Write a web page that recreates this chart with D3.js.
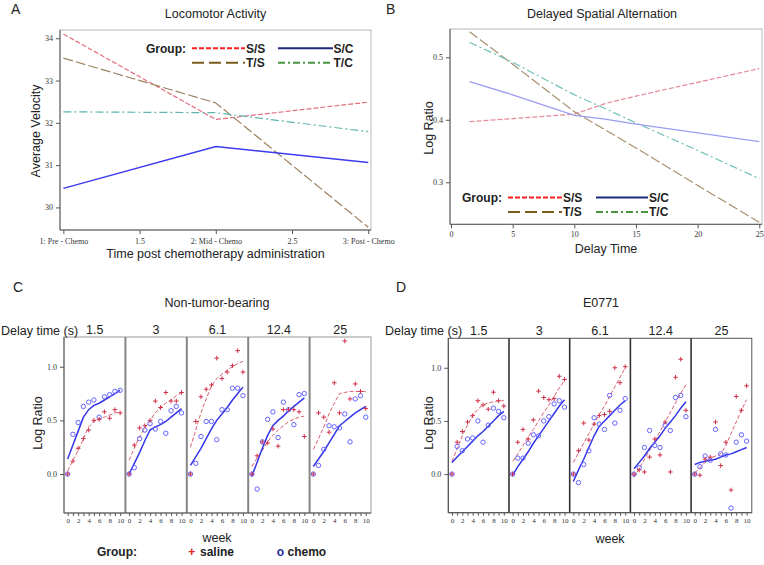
<!DOCTYPE html>
<html><head><meta charset="utf-8">
<script src="https://cdn.jsdelivr.net/npm/d3@7"></script>
<style>
body{margin:0;background:#fff;}
svg{display:block;}
text{font-family:"Liberation Sans",Arial,sans-serif;fill:#222;}
</style></head><body>
<svg id="chart" width="764" height="565"></svg>
<script>
// ---------- Panel A: Locomotor Activity ----------
const timePoints = [1, 2, 3];
const aTickValues = [1, 1.5, 2, 2.5, 3];
const aTickLabels = ["1: Pre - Chemo", "1.5", "2: Mid - Chemo", "2.5", "3: Post - Chemo"];
const aYTicks = [30, 31, 32, 33, 34];
const locoSS = [34.10, 32.08, 32.49];
const locoSC = [30.45, 31.44, 31.06];
const locoTS = [33.53, 32.47, 29.53];
const locoTC = [32.26, 32.24, 31.79];

// ---------- Panel B: Delayed Spatial Alternation ----------
const delayGrid = [1.5, 5, 10, 12.5, 15, 20, 25];
const bXTicks = [0, 5, 10, 15, 20, 25];
const bYTicks = [0.3, 0.4, 0.5];
const dsaSS = [0.397, 0.402, 0.409, 0.426, 0.438, 0.460, 0.482];
const dsaSC = [0.461, 0.440, 0.407, 0.401, 0.393, 0.379, 0.365];
const dsaTS = [0.541, 0.489, 0.413, 0.384, 0.355, 0.295, 0.236];
const dsaTC = [0.524, 0.492, 0.440, 0.418, 0.395, 0.351, 0.306];

// ---------- Panels C & D ----------
const weeks = [0, 1, 2, 3, 4, 5, 6, 7, 8, 9, 10];
const delayLabels = ["1.5", "3", "6.1", "12.4", "25"];
const logRatioTicks = [0.0, 0.5, 1.0];

const cSalinePts = [
  [0, 0.12, 0.24, 0.33, 0.41, 0.50, 0.51, 0.58, 0.52, 0.60, 0.57],
  [0, 0.27, 0.43, 0.45, 0.50, 0.68, 0.62, 0.76, 0.68, 0.68, 0.76],
  [0, 0.49, 0.72, 0.79, 0.83, 1.08, 0.89, 0.95, 1.01, 1.15, 0.95],
  [0, 0.17, 0.30, 0.29, 0.42, 0.26, 0.60, 0.60, 0.60, 0.58, 0.35],
  [0, 0.57, 0.53, 0.39, 0.85, 0.57, 1.24, 0.70, 0.84, 0.77, 0.61]
];
const cChemoPts = [
  [0, 0.37, 0.48, 0.63, 0.67, 0.69, 0.53, 0.72, 0.74, 0.77, 0.78],
  [0, 0.06, 0.33, 0.41, 0.47, 0.42, 0.49, 0.38, 0.59, 0.63, 0.57],
  [0, 0.10, 0.35, 0.49, 0.49, 0.32, 0.60, 0.60, 0.80, 0.80, 0.73],
  [0, -0.14, 0.30, 0.51, 0.58, 0.34, 0.67, 0.60, 0.46, 0.74, 0.75],
  [0, 0.08, 0.23, 0.45, 0.44, 0.43, 0.56, 0.30, 0.70, 0.73, 0.53]
];
const cSalineFit = [
  [0.03, 0.13, 0.22, 0.33, 0.44, 0.49, 0.51, 0.53, 0.55, 0.57, 0.58],
  [0.13, 0.24, 0.35, 0.43, 0.50, 0.57, 0.62, 0.66, 0.69, 0.73, 0.76],
  [0.25, 0.41, 0.57, 0.70, 0.82, 0.89, 0.93, 0.97, 1.00, 1.03, 1.05],
  [0.07, 0.15, 0.22, 0.30, 0.36, 0.41, 0.45, 0.49, 0.51, 0.53, 0.54],
  [0.23, 0.33, 0.44, 0.56, 0.66, 0.75, 0.76, 0.77, 0.77, 0.77, 0.77]
];
const cChemoFit = [
  [0.14, 0.27, 0.40, 0.53, 0.60, 0.64, 0.66, 0.69, 0.72, 0.75, 0.78],
  [0.00, 0.10, 0.20, 0.31, 0.41, 0.44, 0.46, 0.49, 0.53, 0.57, 0.61],
  [0.08, 0.16, 0.24, 0.33, 0.42, 0.50, 0.56, 0.62, 0.69, 0.75, 0.81],
  [-0.02, 0.11, 0.24, 0.36, 0.45, 0.50, 0.54, 0.59, 0.63, 0.67, 0.71],
  [0.07, 0.14, 0.21, 0.29, 0.37, 0.45, 0.49, 0.53, 0.57, 0.60, 0.63]
];
const dSalinePts = [
  [0, 0.30, 0.40, 0.49, 0.55, 0.69, 0.65, 0.61, 0.77, 0.69, 0.64],
  [0, 0.30, 0.42, 0.33, 0.51, 0.78, 0.72, 0.70, 0.71, 0.92, 0.89],
  [0, 0.22, 0.48, 0.32, 0.47, 0.55, 0.56, 0.59, 1.00, 0.86, 1.01],
  [0, 0.04, 0.02, 0.16, 0.33, 0.18, 0.49, 0.02, 0.91, 1.08, 0.60],
  [0, -0.01, 0.14, 0.16, 0.49, 0.08, 0.30, -0.15, 0.73, 0.60, 0.83]
];
const dChemoPts = [
  [0, 0.26, 0.22, 0.33, 0.34, 0.50, 0.30, 0.46, 0.62, 0.59, 0.53],
  [0, 0.15, 0.15, 0.29, 0.37, 0.36, 0.50, 0.54, 0.66, 0.69, 0.63],
  [0, -0.08, 0.09, 0.22, 0.53, 0.47, 0.42, 0.74, 0.48, 0.60, 0.71],
  [0, 0.06, 0.25, 0.41, 0.27, 0.25, 0.46, 0.41, 0.72, 0.74, 0.54],
  [0, 0.07, 0.17, 0.13, 0.42, 0.19, 0.18, -0.32, 0.30, 0.37, 0.31]
];
const dSalineFit = [
  [0.12, 0.24, 0.36, 0.46, 0.55, 0.61, 0.65, 0.67, 0.68, 0.69, 0.69],
  [0.12, 0.19, 0.27, 0.35, 0.42, 0.50, 0.58, 0.65, 0.73, 0.81, 0.88],
  [0.11, 0.20, 0.29, 0.38, 0.47, 0.56, 0.64, 0.73, 0.82, 0.91, 1.00],
  [-0.03, 0.05, 0.14, 0.22, 0.31, 0.40, 0.49, 0.58, 0.67, 0.76, 0.84],
  [0.01, 0.06, 0.11, 0.15, 0.17, 0.19, 0.27, 0.38, 0.49, 0.60, 0.70]
];
const dChemoFit = [
  [0.11, 0.16, 0.21, 0.26, 0.31, 0.36, 0.40, 0.45, 0.50, 0.55, 0.59],
  [-0.01, 0.07, 0.14, 0.21, 0.29, 0.36, 0.43, 0.50, 0.57, 0.64, 0.70],
  [-0.07, 0.04, 0.14, 0.25, 0.36, 0.45, 0.50, 0.55, 0.60, 0.65, 0.69],
  [0.05, 0.11, 0.17, 0.24, 0.30, 0.36, 0.43, 0.49, 0.55, 0.62, 0.68],
  [0.09, 0.11, 0.12, 0.13, 0.14, 0.16, 0.18, 0.19, 0.21, 0.23, 0.25]
];

// ---------- drawing ----------
const svg = d3.select("#chart");
const SERIF = "'Liberation Serif','Times New Roman',serif";

function txt(t, x, y, size, opts = {}) {
  const e = svg.append("text").attr("x", x).attr("y", y).attr("font-size", size).text(t);
  if (opts.anchor) e.attr("text-anchor", opts.anchor);
  if (opts.bold) e.attr("font-weight", "bold");
  if (opts.fill) e.style("fill", opts.fill);
  if (opts.rotate) e.attr("transform", `rotate(-90,${x},${y})`);
  return e;
}
function styleAxis(g, size) {
  g.select(".domain").remove();
  g.attr("font-family", SERIF).attr("font-size", size);
  g.selectAll(".tick line").attr("stroke", "#555");
  g.selectAll(".tick text").style("fill", "#333").style("font-family", SERIF);
}
function drawBox(b, frameColor) {
  svg.append("rect").attr("x", b.l).attr("y", b.t).attr("width", b.r - b.l).attr("height", b.b - b.t)
    .attr("fill", "none").attr("stroke", frameColor);
  svg.append("line").attr("x1", b.l).attr("x2", b.l).attr("y1", b.t).attr("y2", b.b).attr("stroke", "#555");
  svg.append("line").attr("x1", b.l).attr("x2", b.r).attr("y1", b.b).attr("y2", b.b).attr("stroke", "#555");
}
const legendItems = [
  {label: "S/S", color: "#ff2020", dash: "5,2", col: 0, row: 0},
  {label: "S/C", color: "#1c2a7a", dash: null, col: 1, row: 0},
  {label: "T/S", color: "#7b5c1c", dash: "12,5", col: 0, row: 1},
  {label: "T/C", color: "#4a9440", dash: "7,3,2,3", col: 1, row: 1}
];
function drawLegend(L) {
  txt("Group:", L.gx, L.rows[0] + 4.3, 12, {bold: true});
  legendItems.forEach(it => {
    const c = L.cols[it.col], y = L.rows[it.row];
    const ln = svg.append("line").attr("x1", c[0]).attr("x2", c[1]).attr("y1", y).attr("y2", y)
      .attr("stroke", it.color).attr("stroke-width", 2);
    if (it.dash) ln.attr("stroke-dasharray", it.dash);
    txt(it.label, c[2], y + 4.3, 12, {bold: true});
  });
}

// ----- Panel A -----
const aBox = {l: 60, r: 371, t: 30, b: 230};
const xA = d3.scaleLinear().domain([0.978, 3.018]).range([aBox.l, aBox.r]);
const yA = d3.scaleLinear().domain([29.466, 34.195]).range([aBox.b, aBox.t]);
drawBox(aBox, "#b8b8b8");
svg.append("g").attr("transform", `translate(${aBox.l},0)`)
  .call(d3.axisLeft(yA).tickValues(aYTicks).tickSize(4).tickPadding(3).tickFormat(d3.format("d")))
  .call(g => styleAxis(g, 8));
svg.append("g").attr("transform", `translate(0,${aBox.b})`)
  .call(d3.axisBottom(xA).tickValues(aTickValues).tickSize(4).tickPadding(4).tickFormat((d, i) => aTickLabels[i]))
  .call(g => styleAxis(g, 8));
const lineA = d3.line().x((d, i) => xA(timePoints[i])).y(d => yA(d));
[
  [locoSS, "#e0707f", "5,2", 1.2],
  [locoTS, "#9c8060", "10,3", 1.2],
  [locoTC, "#5fb4ae", "8,3,2,3", 1.2],
  [locoSC, "#3b3bef", null, 1.5]
].forEach(([s, c, dash, w]) => {
  const p = svg.append("path").datum(s).attr("d", lineA).attr("fill", "none").attr("stroke", c).attr("stroke-width", w);
  if (dash) p.attr("stroke-dasharray", dash);
});
drawLegend({gx: 146, rows: [48.3, 62.7], cols: [[192, 245, 246], [278, 333, 333.5]]});
txt("A", 11, 14, 14);
txt("Locomotor Activity", 215.5, 17.5, 12.5, {anchor: "middle"});
txt("Time post chemotherapy administration", 215.5, 258, 12.5, {anchor: "middle"});
txt("Average Velocity", 39.5, 131, 12.5, {anchor: "middle", rotate: true});

// ----- Panel B -----
const bBox = {l: 450, r: 762, t: 29, b: 224.3};
const xB = d3.scaleLinear().domain([-0.08, 25.22]).range([bBox.l, bBox.r]);
const yB = d3.scaleLinear().domain([0.2328, 0.5453]).range([bBox.b, bBox.t]);
drawBox(bBox, "#b8b8b8");
svg.append("g").attr("transform", `translate(${bBox.l},0)`)
  .call(d3.axisLeft(yB).tickValues(bYTicks).tickSize(4).tickPadding(3).tickFormat(d3.format(".1f")))
  .call(g => styleAxis(g, 8));
svg.append("g").attr("transform", `translate(0,${bBox.b})`)
  .call(d3.axisBottom(xB).tickValues(bXTicks).tickSize(4).tickPadding(3).tickFormat(d3.format("d")))
  .call(g => styleAxis(g, 8));
const lineB = d3.line().x((d, i) => xB(delayGrid[i])).y(d => yB(d));
[
  [dsaSS, "#e48a98", "5,2", 1.2],
  [dsaTS, "#a89070", "10,3", 1.2],
  [dsaTC, "#6cc0b8", "8,3,2,3", 1.2],
  [dsaSC, "#9c9cf2", null, 1.3]
].forEach(([s, c, dash, w]) => {
  const p = svg.append("path").datum(s).attr("d", lineB).attr("fill", "none").attr("stroke", c).attr("stroke-width", w);
  if (dash) p.attr("stroke-dasharray", dash);
});
drawLegend({gx: 462, rows: [197.5, 212], cols: [[508, 562, 563], [596, 648, 649]]});
txt("B", 386, 14, 14);
txt("Delayed Spatial Alternation", 602, 17.5, 12.5, {anchor: "middle"});
txt("Delay Time", 606, 253, 12.5, {anchor: "middle"});
txt("Log Ratio", 432.5, 128, 12.5, {anchor: "middle", rotate: true});

// ----- Panels C / D -----
const weekDomain = [-0.7, 11.0];
const logRatioDomain = [-0.363, 1.277];
function drawFacets(cfg) {
  const {x0, w, top, bottom, salinePts, chemoPts, salineFit, chemoFit} = cfg;
  const y = d3.scaleLinear().domain(logRatioDomain).range([bottom, top]);
  svg.append("rect").attr("x", x0).attr("y", top).attr("width", w * 5).attr("height", bottom - top)
    .attr("fill", "none").attr("stroke", cfg.outer);
  delayLabels.forEach((lab, i) => {
    const xs = d3.scaleLinear().domain(weekDomain).range([x0 + i * w, x0 + (i + 1) * w]);
    svg.append("g").attr("transform", `translate(0,${bottom})`)
      .call(d3.axisBottom(xs).tickValues(weeks).tickSize(3).tickPadding(2).tickFormat(d => d % 2 === 0 ? d : ""))
      .call(g => styleAxis(g, 7));
    const line = d3.line().x((d, j) => xs(weeks[j])).y(d => y(d));
    svg.append("path").datum(salineFit[i]).attr("d", line).attr("fill", "none")
      .attr("stroke", "#d8606e").attr("stroke-width", 1).attr("stroke-dasharray", "4,2");
    svg.append("path").datum(chemoFit[i]).attr("d", line).attr("fill", "none")
      .attr("stroke", "#3535e8").attr("stroke-width", 1.5);
    svg.append("g").selectAll("circle").data(chemoPts[i]).join("circle")
      .attr("cx", (d, j) => xs(weeks[j])).attr("cy", d => y(d)).attr("r", 2.2)
      .attr("fill", "none").attr("stroke", "#6464ff").attr("stroke-width", 1);
    svg.append("g").selectAll("path").data(salinePts[i]).join("path")
      .attr("transform", (d, j) => `translate(${xs(weeks[j])},${y(d)})`)
      .attr("d", "M-2.3,0H2.3M0,-2.3V2.3").attr("stroke", "#d0304a").attr("stroke-width", 1);
    txt(lab, x0 + (i + 0.5) * w, top - 3, 12.5, {anchor: "middle"});
    if (i > 0) svg.append("line").attr("x1", x0 + i * w).attr("x2", x0 + i * w).attr("y1", top).attr("y2", bottom)
      .attr("stroke", cfg.divider).attr("stroke-width", cfg.dividerWidth);
  });
  svg.append("line").attr("x1", x0).attr("x2", x0).attr("y1", top).attr("y2", bottom).attr("stroke", "#555");
  svg.append("line").attr("x1", x0).attr("x2", x0 + 5 * w).attr("y1", bottom).attr("y2", bottom).attr("stroke", "#555");
  svg.append("g").attr("transform", `translate(${x0},0)`)
    .call(d3.axisLeft(y).tickValues(logRatioTicks).tickSize(4).tickPadding(3).tickFormat(d3.format(".1f")))
    .call(g => styleAxis(g, 8));
}
drawFacets({x0: 64, w: 61.4, top: 337, bottom: 513, salinePts: cSalinePts, chemoPts: cChemoPts,
  salineFit: cSalineFit, chemoFit: cChemoFit, outer: "#999", divider: "#858585", dividerWidth: 2});
drawFacets({x0: 448.3, w: 60.7, top: 338.3, bottom: 512.7, salinePts: dSalinePts, chemoPts: dChemoPts,
  salineFit: dSalineFit, chemoFit: dChemoFit, outer: "#555", divider: "#333", dividerWidth: 1.6});

txt("C", 13, 292, 14);
txt("D", 396, 292, 14);
txt("Non-tumor-bearing", 217, 307, 12.5, {anchor: "middle"});
txt("E0771", 601, 307, 12.5, {anchor: "middle"});
txt("Delay time (s)", 1, 334.5, 12.5);
txt("Delay time (s)", 385, 334.5, 12.5);
txt("Log Ratio", 42, 423, 12.5, {anchor: "middle", rotate: true});
txt("Log Ratio", 432.5, 423, 12.5, {anchor: "middle", rotate: true});
txt("week", 217, 542, 12.5, {anchor: "middle"});
txt("week", 610, 543, 12.5, {anchor: "middle"});
// group legend for C/D
txt("Group:", 97, 555.5, 12, {bold: true});
txt("+", 191.7, 555.5, 12, {bold: true, anchor: "middle", fill: "#e02020"});
txt("saline", 200, 555.5, 12, {bold: true});
txt("o", 280.5, 555.5, 12, {bold: true, anchor: "middle", fill: "#1c2a9a"});
txt("chemo", 287.5, 555.5, 12, {bold: true});
</script></body></html>
